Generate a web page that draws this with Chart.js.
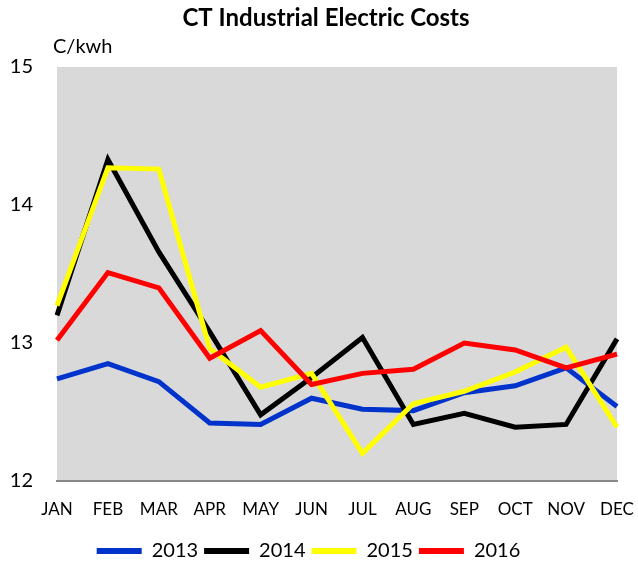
<!DOCTYPE html>
<html>
<head>
<meta charset="utf-8">
<script src="https://cdn.jsdelivr.net/npm/chart.js@4/dist/chart.umd.min.js"></script>
<style>
  html, body { margin: 0; padding: 0; background: #fff; }
  #wrap { width: 638px; height: 571px; }
</style>
</head>
<body>
<div id="wrap"><canvas id="costChart"></canvas></div>
<script>
// chart data
const months = ['JAN', 'FEB', 'MAR', 'APR', 'MAY', 'JUN', 'JUL', 'AUG', 'SEP', 'OCT', 'NOV', 'DEC'];
const years = ['2013', '2014', '2015', '2016'];
const costs2013 = [12.74, 12.85, 12.72, 12.42, 12.41, 12.60, 12.52, 12.51, 12.64, 12.69, 12.82, 12.54];
const costs2014 = [13.20, 14.33, 13.66, 13.08, 12.48, 12.75, 13.04, 12.41, 12.49, 12.39, 12.41, 13.03];
const costs2015 = [13.27, 14.27, 14.26, 12.96, 12.68, 12.78, 12.20, 12.56, 12.65, 12.79, 12.97, 12.39];
const costs2016 = [13.02, 13.51, 13.40, 12.89, 13.09, 12.70, 12.78, 12.81, 13.00, 12.95, 12.82, 12.92];
const yTicks = [12, 13, 14, 15];

const lineColors = ['#0033CC', '#000000', '#FFFF00', '#FF0000'];
const FONT = 'Lato, "Open Sans", sans-serif';

// grey plot background, title and unit label
const plotBg = {
    id: 'plotBg',
    beforeDraw(chart) {
        const { ctx, chartArea } = chart;
        ctx.save();
        ctx.fillStyle = '#D9D9D9';
        ctx.fillRect(chartArea.left, chartArea.top, chartArea.right - chartArea.left, chartArea.bottom - chartArea.top);
        ctx.restore();
    },
    afterDraw(chart) {
        const { ctx, chartArea } = chart;
        ctx.save();
        ctx.fillStyle = '#000';
        ctx.textBaseline = 'middle';
        // title sits a little right of the canvas centre in the original
        ctx.textAlign = 'center';
        ctx.font = 'bold 24px ' + FONT;
        ctx.fillText('CT Industrial Electric Costs', 326, 18);
        // unit label
        ctx.textAlign = 'left';
        ctx.font = '20px ' + FONT;
        ctx.fillText('C/kwh', chartArea.left - 4, 47);
        ctx.restore();
    }
};

const seriesValues = [costs2013, costs2014, costs2015, costs2016];
const datasets = years.map((yr, i) => ({
    label: yr,
    data: seriesValues[i],
    borderColor: lineColors[i],
    backgroundColor: lineColors[i],
    borderWidth: 5,
    pointRadius: 0,
    tension: 0,
    order: years.length - i
}));

new Chart(document.getElementById('costChart'), {
    type: 'line',
    data: { labels: months, datasets },
    plugins: [plotBg],
    options: {
        responsive: true,
        maintainAspectRatio: false,
        animation: false,
        layout: { padding: { left: 0, right: 21, top: 67, bottom: 0 } },
        plugins: {
            title: { display: false },
            legend: {
                position: 'bottom',
                labels: {
                    color: '#000',
                    font: { family: FONT, size: 20 },
                    boxWidth: 45,
                    boxHeight: 6,
                    padding: 6,
                    sort: (a, b) => a.datasetIndex - b.datasetIndex,
                    generateLabels(chart) {
                        const items = Chart.defaults.plugins.legend.labels.generateLabels(chart);
                        items.forEach(it => { it.lineWidth = 0; });
                        return items;
                    }
                }
            },
            tooltip: { enabled: false }
        },
        scales: {
            x: {
                offset: false,
                grid: { display: false, drawTicks: false },
                border: { display: true, color: '#888888', width: 2 },
                afterFit(scale) {
                    scale.height = 54;
                    scale.paddingLeft = 0;
                    scale.paddingRight = 0;
                },
                ticks: {
                    color: '#000',
                    font: { family: FONT, size: 17 },
                    padding: 18,
                    maxRotation: 0,
                    autoSkip: false
                }
            },
            y: {
                min: yTicks[0],
                max: yTicks[yTicks.length - 1],
                grid: { display: false, drawTicks: false },
                border: { display: false },
                afterBuildTicks(scale) {
                    scale.ticks = yTicks.map(v => ({ value: v }));
                },
                afterFit(scale) {
                    scale.width = 57;
                    scale.paddingTop = 0;
                },
                ticks: {
                    color: '#000',
                    font: { family: FONT, size: 20 },
                    padding: 24
                }
            }
        }
    }
});
</script>
</body>
</html>
